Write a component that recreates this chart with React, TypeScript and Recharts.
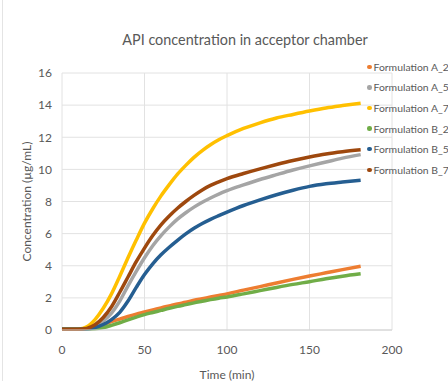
import { CartesianGrid, Label, Line, LineChart, XAxis, YAxis } from "recharts";

const times = [
  0, 5, 10, 15, 20, 25, 30, 35, 40, 45, 50, 55, 60, 65, 70, 75, 80, 85, 90, 95, 100, 110, 120, 130,
  140, 150, 160, 170, 181,
];

const formulationA25 = [
  0.05, 0.05, 0.05, 0.06, 0.15, 0.33, 0.52, 0.68, 0.84, 0.99, 1.12, 1.25, 1.38, 1.5, 1.62, 1.73,
  1.85, 1.95, 2.05, 2.15, 2.25, 2.48, 2.7, 2.93, 3.15, 3.36, 3.56, 3.76, 3.97,
];
const formulationA50 = [
  0.05, 0.05, 0.05, 0.07, 0.22, 0.55, 1.05, 1.8, 2.75, 3.65, 4.5, 5.25, 5.88, 6.42, 6.9, 7.3, 7.65,
  7.95, 8.22, 8.46, 8.67, 9.03, 9.37, 9.67, 9.96, 10.22, 10.46, 10.7, 10.92,
];
const formulationA75 = [
  0.05, 0.05, 0.06, 0.2, 0.65, 1.35, 2.25, 3.35, 4.5, 5.6, 6.65, 7.55, 8.35, 9.05, 9.7, 10.25, 10.75,
  11.17, 11.53, 11.84, 12.1, 12.55, 12.9, 13.2, 13.42, 13.63, 13.82, 13.97, 14.12,
];
const formulationB25 = [
  0.05, 0.05, 0.05, 0.05, 0.07, 0.15, 0.29, 0.45, 0.63, 0.8, 0.96, 1.09, 1.22, 1.35, 1.47, 1.58, 1.69,
  1.79, 1.89, 1.98, 2.06, 2.25, 2.45, 2.65, 2.84, 3.01, 3.19, 3.35, 3.5,
];
const formulationB50 = [
  0.05, 0.05, 0.05, 0.06, 0.15, 0.34, 0.65, 1.1, 1.8, 2.65, 3.45, 4.12, 4.68, 5.15, 5.58, 5.98, 6.33,
  6.63, 6.89, 7.12, 7.34, 7.75, 8.1, 8.42, 8.7, 8.94, 9.1, 9.21, 9.32,
];
const formulationB75 = [
  0.05, 0.05, 0.05, 0.1, 0.33, 0.78, 1.45, 2.35, 3.3, 4.25, 5.1, 5.88, 6.55, 7.1, 7.58, 8.0, 8.38,
  8.72, 9.0, 9.22, 9.42, 9.74, 10.03, 10.3, 10.55, 10.77, 10.96, 11.1, 11.22,
];

const xTicks = [0, 50, 100, 150, 200];
const yTicks = [0, 2, 4, 6, 8, 10, 12, 14, 16];

const seriesList = [
  { key: "a25", name: "Formulation A_25", color: "#ED7D31", values: formulationA25 },
  { key: "a50", name: "Formulation A_50", color: "#A5A5A5", values: formulationA50 },
  { key: "a75", name: "Formulation A_75", color: "#FFC000", values: formulationA75 },
  { key: "b25", name: "Formulation B_25", color: "#70AD47", values: formulationB25 },
  { key: "b50", name: "Formulation B_50", color: "#255E91", values: formulationB50 },
  { key: "b75", name: "Formulation B_75", color: "#9E480E", values: formulationB75 },
];

const chartData = times.map((time, index) => {
  const row: Record<string, number> = { time };
  for (const series of seriesList) {
    row[series.key] = series.values[index];
  }
  return row;
});

const textColor = "#595959";
const fontFamily = "Lato, 'Open Sans', sans-serif";

export default function App() {
  return (
    <div
      style={{
        position: "absolute",
        left: 0,
        top: 0,
        width: 448,
        height: 381,
        background: "#fff",
        overflow: "hidden",
        fontFamily,
      }}
    >
      <div
        style={{
          position: "absolute",
          left: 2,
          top: 0,
          width: 1,
          height: 381,
          background: "#e4e4e4",
        }}
      />
      <div
        style={{
          position: "absolute",
          left: 0,
          top: 31,
          width: 490,
          textAlign: "center",
          fontSize: 14.4,
          color: textColor,
        }}
      >
        API concentration in acceptor chamber
      </div>
      <LineChart
        data={chartData}
        height={381}
        margin={{ top: 73, right: 56, bottom: 0, left: 0 }}
        width={448}
        style={{ position: "absolute", left: 0, top: 0 }}
      >
        <CartesianGrid stroke="#e2e2e2" />
        <XAxis
          axisLine={{ stroke: "#d0d0d0" }}
          dataKey="time"
          domain={[0, 200]}
          height={51}
          tick={{ fill: textColor, fontSize: 12, fontFamily }}
          tickLine={false}
          tickMargin={9}
          ticks={xTicks}
          type="number"
        >
          <Label
            fill={textColor}
            fontFamily={fontFamily}
            fontSize={12}
            position="insideBottom"
            offset={2}
            value="Time (min)"
          />
        </XAxis>
        <YAxis
          axisLine={false}
          domain={[0, 16]}
          tick={{ fill: textColor, fontSize: 12, fontFamily }}
          tickLine={false}
          tickMargin={4}
          ticks={yTicks}
          type="number"
          width={62}
        >
          <Label
            angle={-90}
            fill={textColor}
            fontFamily={fontFamily}
            fontSize={12}
            position="insideLeft"
            offset={27}
            style={{ textAnchor: "middle" }}
            value="Concentration (µg/mL)"
          />
        </YAxis>
        {seriesList.map((series) => (
          <Line
            key={series.key}
            dataKey={series.key}
            dot={false}
            isAnimationActive={false}
            name={series.name}
            stroke={series.color}
            strokeWidth={3.5}
            type="monotone"
          />
        ))}
      </LineChart>
      <div style={{ position: "absolute", left: 367, top: 56.5 }}>
        {seriesList.map((series) => (
          <div
            key={series.key}
            style={{
              display: "flex",
              alignItems: "center",
              height: 20.6,
              whiteSpace: "nowrap",
              fontSize: 10.4,
              color: textColor,
            }}
          >
            <span
              style={{
                display: "inline-block",
                width: 4.5,
                height: 4.5,
                borderRadius: "50%",
                background: series.color,
                marginRight: 2,
              }}
            />
            {series.name}
          </div>
        ))}
      </div>
    </div>
  );
}
